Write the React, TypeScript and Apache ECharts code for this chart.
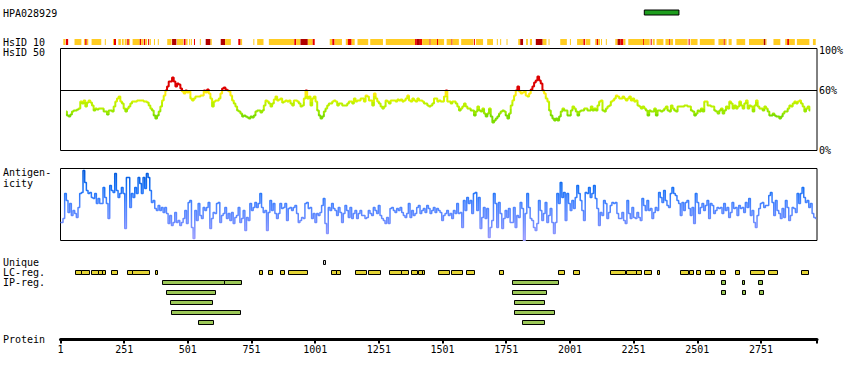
import React, { useEffect, useRef } from 'react';
import * as echarts from 'echarts';

const PROTEIN_LENGTH = 2971;
const AXIS_TICK_STEP = 250;
const HPA_ID = 'HPA028929';
const HPA_RANGE = [[2293, 2429]];

// HsID 10 strip: [start, end, level] level 1=yellow, 2=red, 3=dark red
const HSID10_SEGMENTS = [
  [12,20,1],[22,31,2],[56,83,1],[93,98,1],[98,104,2],[104,110,1],[123,161,1],[175,179,1],[207,211,1],[211,219,2],
  [228,238,1],[242,249,1],[253,261,1],[263,269,2],[270,274,1],[284,312,1],[312,318,2],[318,326,1],[328,334,2],[334,341,1],
  [345,349,2],[351,356,1],[368,372,1],[383,387,1],[420,437,1],[439,456,3],[458,483,1],[485,492,2],[494,500,1],[506,509,1],
  [513,517,1],[525,529,2],[548,551,1],[571,590,3],[590,595,1],[630,647,3],[647,670,1],[699,708,2],[708,714,1],[758,762,1],
  [773,798,1],[819,919,1],[919,926,2],[926,942,1],[943,972,3],[972,991,1],[991,999,2],[1058,1068,1],[1068,1077,2],[1077,1106,1],
  [1121,1129,1],[1129,1144,2],[1144,1156,1],[1167,1209,1],[1217,1267,1],[1278,1393,1],[1393,1400,2],[1400,1412,3],[1412,1421,2],[1421,1450,1],
  [1450,1454,2],[1454,1479,1],[1479,1483,2],[1483,1507,1],[1517,1536,1],[1536,1540,2],[1540,1565,1],[1574,1622,1],[1624,1628,2],[1632,1660,1],
  [1676,1699,1],[1714,1718,1],[1727,1731,1],[1752,1756,1],[1798,1806,1],[1806,1817,3],[1829,1836,1],[1844,1852,1],[1867,1894,3],[1894,1909,1],
  [1917,1920,1],[1963,1989,1],[2001,2005,1],[2029,2054,1],[2054,2060,2],[2062,2081,1],[2100,2106,1],[2106,2112,2],[2112,2119,1],[2123,2127,1],
  [2142,2146,1],[2179,2188,1],[2188,2200,3],[2200,2211,2],[2211,2219,1],[2230,2288,1],[2288,2291,2],[2291,2314,1],[2318,2322,2],[2326,2334,1],
  [2341,2368,1],[2376,2391,1],[2391,2395,2],[2395,2406,1],[2414,2463,1],[2467,2471,2],[2475,2502,1],[2511,2569,1],[2584,2605,1],[2605,2609,2],
  [2609,2616,1],[2624,2636,1],[2655,2689,1],[2704,2762,1],[2762,2769,3],[2769,2773,1],[2800,2827,1],[2846,2854,1],[2854,2861,2],[2861,2884,1],
  [2892,2941,1],[2955,2966,1],
];

// HsID 50 (%), sampled every HSID50_STEP residues from HSID50_START
const HSID50_START = 23;
const HSID50_STEP = 6.55;
const HSID50_THRESHOLD = 60;
const HSID50_VALUES = [
  39,35,34,36,39,40,40,41,42,49, 47,50,44,48,50,48,45,40,42,41,
  42,42,42,39,39,36,40,40,39,44, 49,52,54,49,47,42,39,42,44,47,
  49,49,49,50,50,50,50,49,49,48, 45,42,40,35,32,35,39,44,50,55,
  60,64,69,69,73,69,64,67,66,62, 59,57,60,58,59,52,50,52,54,54,
  54,55,55,60,58,61,57,52,44,49, 50,50,52,57,62,63,61,60,59,55,
  50,47,44,40,39,37,34,35,34,33, 32,34,33,35,39,40,40,38,40,45,
  50,49,47,44,47,51,54,50,51,52, 48,49,50,49,50,47,45,50,50,49,
  47,44,45,52,60,52,54,45,52,54, 49,40,35,32,34,39,42,45,47,47,
  49,50,49,45,47,47,45,45,45,47, 49,49,47,52,49,50,50,52,52,49,
  55,54,50,50,45,57,52,49,47,44, 42,44,50,49,47,50,50,50,49,51,
  50,51,49,50,52,55,50,49,52,50, 49,52,50,50,49,47,47,45,44,45,
  47,52,52,49,50,49,49,54,60,49, 49,47,49,49,47,44,40,42,44,47,
  44,42,42,40,40,35,39,44,40,39, 42,37,34,37,42,34,28,30,32,34,
  37,39,40,39,35,32,37,45,50,55, 60,64,59,57,58,59,55,54,57,61,
  64,68,70,74,70,67,60,57,52,49,
  40,35,32,30,32,30,34,39,42,40, 40,35,35,40,44,42,39,35,39,40,
  40,42,42,40,40,44,40,42,40,45, 49,50,40,39,42,44,45,49,50,52,
  55,54,52,52,54,52,50,52,54,50, 52,49,50,45,44,42,44,42,40,35,
  40,39,39,42,35,40,40,39,40,42, 44,40,39,45,42,40,39,44,44,44,
  44,45,45,44,44,40,39,35,37,40, 39,42,39,49,49,45,45,44,44,40,
  39,37,40,42,37,40,44,42,49,47, 42,45,42,44,49,45,42,47,50,42,
  45,44,39,45,50,44,42,42,40,44, 42,39,35,35,37,35,34,34,32,34,
  37,39,39,42,45,44,47,49,47,49, 50,47,44,39,42,44,40,
];

// Antigenicity score, sampled every ANTIGEN_STEP residues from ANTIGEN_START
const ANTIGEN_START = 1;
const ANTIGEN_STEP = 6.55;
const ANTIGEN_VALUES = [
  18,18,22,47,40,28,37,25,30,27, 23,33,47,48,70,58,50,47,48,43,
  42,47,37,42,37,37,53,43,37,22, 55,50,48,67,50,43,47,53,47,12,
  63,63,33,47,43,53,47,63,57,47, 63,52,67,63,50,38,40,32,30,35,
  30,33,28,33,27,17,25,15,18,28, 18,20,15,18,22,30,17,38,40,13,
  2,30,20,37,25,22,33,30,33,38, 12,22,28,27,37,38,18,25,27,33,
  22,27,20,28,17,23,25,33,18,22, 30,10,23,20,37,30,33,38,33,37,
  47,33,28,30,10,28,40,30,37,27, 22,27,37,32,33,37,20,32,33,30,
  33,35,27,18,
  20,23,22,37,38,32,33,22,27,18, 27,25,28,35,42,17,7,33,30,37,
  32,30,25,33,28,18,27,35,30,23, 33,22,27,30,22,27,30,25,25,22,
  23,30,27,25,33,30,27,35,25,22, 20,17,23,17,32,33,30,28,32,30,
  33,28,25,23,27,37,23,30,25,27, 33,35,27,30,32,28,35,32,27,30,
  33,28,32,30,28,20,25,27,30,25, 27,22,30,27,37,27,28,13,40,30,
  43,37,40,27,47,48,30,43,12,23, 33,22,32,3,13,20,47,37,13,38,
  27,12,22,30,23,32,18,18,33,13, 25,23,38,32,0,27,47,33,22,20,
  13,10,17,40,30,20,27,38,18,25,
  32,18,7,18,47,37,58,43,48,20, 47,37,30,40,32,43,55,47,40,30,
  20,48,47,53,43,47,55,42,32,15, 28,25,40,37,22,28,35,38,37,38,
  27,22,22,28,20,17,40,27,22,33, 23,22,28,23,20,42,35,30,40,30,
  32,22,28,33,30,48,43,38,50,40, 35,33,47,53,47,45,40,37,25,38,
  30,38,40,32,25,33,17,47,38,27, 33,37,30,35,40,22,37,35,27,30,
  33,32,33,27,37,30,33,23,28,38, 32,33,25,35,32,33,28,38,33,42,
  25,30,18,13,25,32,37,38,33,35, 35,45,48,38,25,40,30,27,22,32,
  23,40,33,20,25,33,32,28,47,37, 47,53,43,38,40,33,37,27,23,22,
];

const UNIQUE_REGIONS = [[1032, 1041]];
const LC_REGIONS = [
  [57,81],[81,112],[119,149],[149,165],[165,177],[199,222],[262,280],[280,348],[372,380],[780,794],
  [817,833],[863,880],[894,969],[1062,1081],[1081,1100],[1158,1202],[1207,1257],[1291,1336],[1336,1367],[1378,1399],
  [1404,1420],[1420,1430],[1484,1525],[1534,1576],[1593,1623],[1722,1737],[1955,1977],[2014,2035],[2160,2216],[2223,2259],
  [2259,2279],[2293,2318],[2341,2350],[2435,2464],[2470,2483],[2494,2511],[2533,2553],[2553,2566],[2592,2609],[2651,2664],
  [2706,2763],[2777,2814],[2907,2936],
];
const IP_REGIONS = [
  [[399,642],[642,711],[1775,1953],[2595,2609],[2675,2685],[2740,2755]],
  [[414,609],[1775,1906],[2595,2609],[2675,2690],[2742,2759]],
  [[431,597],[1783,1898]],
  [[435,707],[1783,1937]],
  [[541,601],[1814,1898]],
];

const LEFT_LABELS = [
  { text: HPA_ID, y: 13.5 },
  { text: 'HsID 10', y: 42.5 },
  { text: 'HsID 50', y: 52.5 },
  { text: 'Antigen-', y: 172.5 },
  { text: 'icity', y: 183 },
  { text: 'Unique', y: 262.5 },
  { text: 'LC-reg.', y: 272.5 },
  { text: 'IP-reg.', y: 282.5 },
  { text: 'Protein', y: 339.5 },
];
const PERCENT_LABELS = [0, 60, 100];

const FONT = '"DejaVu Sans Mono", monospace';
const STRIP_COLORS = ['#ffffff', '#ffcc22', '#e80000', '#b00000'];

export default function App() {
  const ref = useRef<HTMLDivElement>(null);
  useEffect(() => {
    if (!ref.current) return;
    const chart = echarts.init(ref.current, undefined, { renderer: 'svg' });

    const gridBase = { left: 60.5, width: 756.5 };
    const grids = [
      { ...gridBase, top: 10, height: 5 },
      { ...gridBase, top: 39, height: 6 },
      { ...gridBase, top: 48.5, height: 102, show: true, borderColor: '#000', borderWidth: 1 },
      { ...gridBase, top: 168.5, height: 72, show: true, borderColor: '#000', borderWidth: 1 },
      { ...gridBase, top: 257, height: 82.5 },
    ];
    const xAxes = grids.map((_, i) => ({
      type: 'value',
      gridIndex: i,
      min: 1,
      max: PROTEIN_LENGTH,
      interval: AXIS_TICK_STEP,
      show: i === 4,
      position: 'bottom',
      axisLine: { show: true, onZero: false, lineStyle: { color: '#000', width: 3 } },
      axisTick: { show: true, length: 4, lineStyle: { color: '#000', width: 2 } },
      splitLine: { show: false },
      axisLabel: {
        color: '#000',
        fontFamily: FONT,
        fontSize: 10,
        margin: 5,
        showMaxLabel: true,
        formatter: (v: number) => {
          const r = Math.round(v);
          return (r - 1) % AXIS_TICK_STEP === 0 ? String(r) : '';
        },
      },
    }));
    const yAxes = [
      { type: 'value', gridIndex: 0, min: 0, max: 1, show: false },
      { type: 'value', gridIndex: 1, min: 0, max: 1, show: false },
      {
        type: 'value', gridIndex: 2, min: 0, max: 102, interval: 20, position: 'right',
        axisLine: { show: false }, axisTick: { show: false }, splitLine: { show: false },
        axisLabel: {
          color: '#000', fontFamily: FONT, fontSize: 10, margin: 2, showMaxLabel: true,
          formatter: (v: number) => (PERCENT_LABELS.includes(Math.round(v)) ? `${Math.round(v)}%` : ''),
        },
      },
      { type: 'value', gridIndex: 3, min: 0, max: 72, show: false },
      { type: 'value', gridIndex: 4, min: 0, max: 8.25, inverse: true, show: false },
    ];

    const spanRect = (fillFor: (api: any) => string, stroke?: string) => (params: any, api: any) => {
      const cs = params.coordSys;
      const x0 = api.coord([api.value(0), 0])[0];
      const x1 = api.coord([api.value(1), 0])[0];
      return {
        type: 'rect',
        shape: { x: x0, y: cs.y, width: Math.max(1, x1 - x0), height: cs.height },
        style: { fill: fillFor(api), stroke: stroke || null, lineWidth: stroke ? 1 : 0 },
      };
    };
    const trackRect = (fill: string) => (params: any, api: any) => {
      const x0 = Math.round(api.coord([api.value(0), 0])[0]);
      const x1 = Math.round(api.coord([api.value(1), 0])[0]);
      const yc = api.coord([0, api.value(2) + 0.5])[1];
      return {
        type: 'rect',
        shape: { x: x0 + 0.5, y: Math.round(yc - 2) + 0.5, width: Math.max(1, x1 - x0), height: 4 },
        style: { fill, stroke: '#000', lineWidth: 1 },
      };
    };

    const option: any = {
      animation: false,
      backgroundColor: '#fff',
      grid: grids,
      xAxis: xAxes,
      yAxis: yAxes,
      visualMap: [
        {
          type: 'piecewise', show: false, seriesIndex: 2, dimension: 1,
          pieces: [
            { lt: 36, color: '#7ddc00' },
            { gte: 36, lt: 42, color: '#9be800' },
            { gte: 42, lt: 48, color: '#bbf000' },
            { gte: 48, lt: 54, color: '#d8f400' },
            { gte: 54, lt: HSID50_THRESHOLD, color: '#fbeb10' },
            { gte: HSID50_THRESHOLD, color: '#dd0000' },
          ],
        },
        {
          type: 'continuous', show: false, seriesIndex: 3, dimension: 1, min: 0, max: 72,
          inRange: { color: ['#9c9cff', '#6e8cff', '#4a84ff', '#1570f5', '#0055d5'] },
        },
      ],
      graphic: LEFT_LABELS.map((l) => ({
        type: 'text', x: 3, y: l.y, silent: true,
        style: { text: l.text, fontFamily: FONT, fontSize: 10, fill: '#000', verticalAlign: 'middle' },
      })),
      series: [
        {
          type: 'custom', xAxisIndex: 0, yAxisIndex: 0, encode: { x: [0, 1] },
          renderItem: spanRect(() => '#1f9e1f', '#000'),
          data: HPA_RANGE.map(([s, e]) => [s, e]),
        },
        {
          type: 'custom', xAxisIndex: 1, yAxisIndex: 1, encode: { x: [0, 1] },
          renderItem: spanRect((api) => STRIP_COLORS[api.value(2)]),
          data: HSID10_SEGMENTS,
        },
        {
          type: 'line', xAxisIndex: 2, yAxisIndex: 2, showSymbol: false, symbol: 'none', step: 'middle',
          lineStyle: { width: 2 },
          data: HSID50_VALUES.map((v, i) => [HSID50_START + i * HSID50_STEP, v]),
          markLine: {
            silent: true, symbol: ['none', 'none'], label: { show: false },
            lineStyle: { color: '#000', width: 1, type: 'solid' },
            data: [{ yAxis: HSID50_THRESHOLD }],
          },
        },
        {
          type: 'line', xAxisIndex: 3, yAxisIndex: 3, showSymbol: false, symbol: 'none', step: 'middle',
          lineStyle: { width: 1.5 },
          data: ANTIGEN_VALUES.map((v, i) => [ANTIGEN_START + i * ANTIGEN_STEP, v]),
        },
        {
          type: 'custom', xAxisIndex: 4, yAxisIndex: 4, encode: { x: [0, 1], y: 2 },
          renderItem: trackRect('#d8d8d8'),
          data: UNIQUE_REGIONS.map(([s, e]) => [s, e, 0]),
        },
        {
          type: 'custom', xAxisIndex: 4, yAxisIndex: 4, encode: { x: [0, 1], y: 2 },
          renderItem: trackRect('#e4d435'),
          data: LC_REGIONS.map(([s, e]) => [s, e, 1]),
        },
        {
          type: 'custom', xAxisIndex: 4, yAxisIndex: 4, encode: { x: [0, 1], y: 2 },
          renderItem: trackRect('#9cc858'),
          data: IP_REGIONS.flatMap((row, r) => row.map(([s, e]) => [s, e, r + 2])),
        },
      ],
    };
    chart.setOption(option);
    return () => chart.dispose();
  }, []);
  return <div ref={ref} style={{ position: 'absolute', left: 0, top: 0, width: 850, height: 380 }} />;
}
